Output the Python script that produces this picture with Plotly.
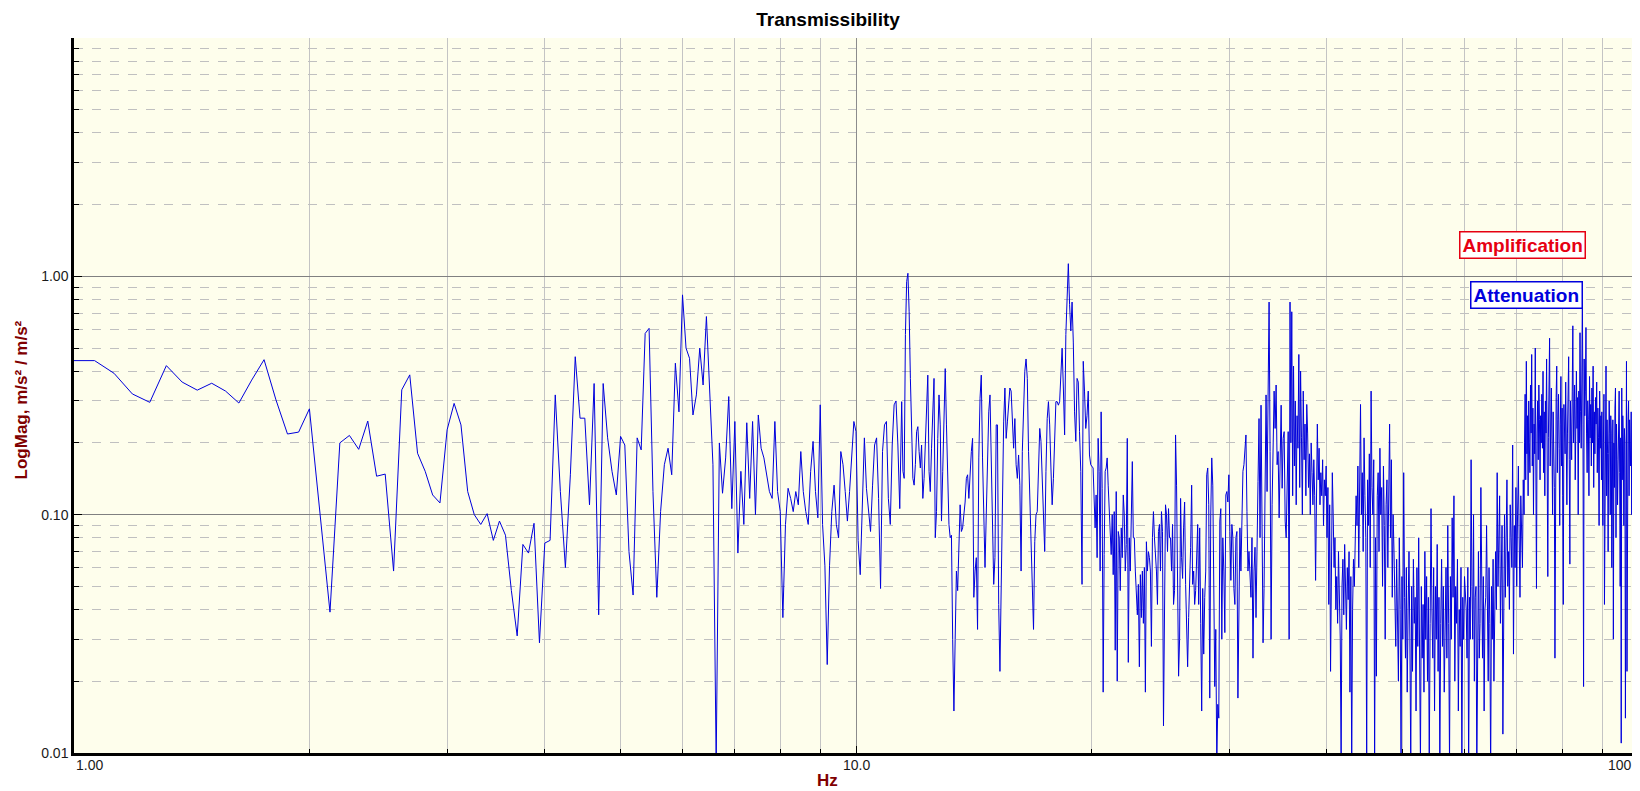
import numpy as np
import plotly.graph_objects as go

# Transmissibility spectrum
DF = 0.0625  # bin width, Hz

# 1.0 .. 3.9375 Hz
mag_lo_a = [0.443, 0.443, 0.392, 0.321, 0.296, 0.422, 0.36, 0.333, 0.356, 0.33, 0.294, 0.367, 0.447, 0.303, 0.218, 0.222,
            0.278, 0.10, 0.039, 0.20, 0.215, 0.188, 0.247, 0.145, 0.148, 0.058, 0.334, 0.386, 0.181, 0.152, 0.121, 0.112,
            0.227, 0.293, 0.238, 0.125, 0.10, 0.091, 0.101, 0.078, 0.094, 0.082, 0.048, 0.031, 0.075, 0.069, 0.092, 0.029]

# 4.0 .. 11.375 Hz
mag_lo_b = [0.076, 0.078, 0.318, 0.125, 0.06, 0.147, 0.46, 0.254, 0.254, 0.11, 0.355, 0.038, 0.355, 0.21, 0.152, 0.121,
            0.213, 0.196, 0.07, 0.046, 0.21, 0.187, 0.576, 0.605, 0.125, 0.045, 0.103, 0.162, 0.19, 0.147, 0.432, 0.27,
            0.836, 0.50, 0.453, 0.262, 0.318, 0.50, 0.35, 0.678, 0.328, 0.162, 0.009, 0.20, 0.123, 0.173, 0.313, 0.106,
            0.246, 0.069, 0.152, 0.091, 0.243, 0.117, 0.246, 0.10, 0.262, 0.19, 0.173, 0.147, 0.125, 0.117, 0.246, 0.125,
            0.103, 0.037, 0.091, 0.129, 0.117, 0.103, 0.125, 0.11, 0.184, 0.125, 0.103, 0.091, 0.152, 0.203, 0.125, 0.097,
            0.289, 0.091, 0.061, 0.0235, 0.061, 0.103, 0.133, 0.091, 0.08, 0.184, 0.162, 0.125, 0.094, 0.125, 0.184, 0.246,
            0.223, 0.078, 0.056, 0.125, 0.21, 0.129, 0.103, 0.085, 0.133, 0.196, 0.21, 0.117, 0.049, 0.184, 0.238, 0.246,
            0.117, 0.091, 0.196, 0.289, 0.30, 0.196, 0.106]

# 11.44 .. 19.96 Hz
f_mid_a = (11.44, 19.96)
mag_mid_a = [0.298, 0.152, 0.142, 0.57, 0.95, 1.03, 0.71, 0.373, 0.196, 0.142, 0.133, 0.162, 0.223, 0.234, 0.184, 0.157,
             0.196, 0.117, 0.142, 0.209, 0.308, 0.385, 0.152, 0.125, 0.19, 0.288, 0.373, 0.08, 0.103, 0.209, 0.318, 0.238,
             0.094, 0.152, 0.253, 0.41, 0.238, 0.129, 0.091, 0.08, 0.082, 0.03, 0.015, 0.03, 0.058, 0.048, 0.08, 0.11,
             0.085, 0.088, 0.1, 0.113, 0.142, 0.147, 0.117, 0.152, 0.184, 0.209, 0.045, 0.058, 0.066, 0.033, 0.173, 0.308,
             0.385, 0.173, 0.094, 0.06, 0.1, 0.184, 0.27, 0.318, 0.184, 0.1, 0.051, 0.066, 0.238, 0.238, 0.042, 0.022,
             0.049, 0.129, 0.245, 0.34, 0.209, 0.245, 0.279, 0.34, 0.33, 0.253, 0.19, 0.253, 0.162, 0.142, 0.178, 0.133,
             0.058, 0.184, 0.308, 0.40, 0.45, 0.373, 0.184, 0.117, 0.066, 0.046, 0.033, 0.077, 0.1, 0.103, 0.162, 0.23,
             0.203, 0.142, 0.094, 0.07, 0.152, 0.253, 0.298, 0.238, 0.157, 0.11, 0.142, 0.238, 0.298, 0.298, 0.288, 0.298,
             0.385, 0.50, 0.34, 0.216, 0.57, 0.92, 1.13, 0.76, 0.59, 0.78, 0.53, 0.27, 0.203, 0.373, 0.36, 0.223,
             0.152, 0.051, 0.44, 0.33, 0.23, 0.26, 0.33, 0.178, 0.162]

# 20.1 .. 35.7 Hz
f_mid_b = (20.1, 35.7)
mag_mid_b = [0.157, 0.125, 0.088, 0.121, 0.066, 0.209, 0.152, 0.058, 0.27, 0.129, 0.018, 0.068, 0.152, 0.157, 0.173, 0.133,
             0.11, 0.08, 0.068, 0.1, 0.056, 0.103, 0.027, 0.125, 0.02, 0.085, 0.08, 0.048, 0.088, 0.066, 0.121, 0.1,
             0.058, 0.075, 0.209, 0.024, 0.08, 0.058, 0.133, 0.167, 0.08, 0.08, 0.058, 0.042, 0.038, 0.051, 0.023, 0.056,
             0.037, 0.058, 0.035, 0.06, 0.018, 0.077, 0.058, 0.07, 0.066, 0.058, 0.028, 0.08, 0.103, 0.08, 0.07, 0.058,
             0.042, 0.085, 0.091, 0.058, 0.103, 0.085, 0.013, 0.053, 0.11, 0.1, 0.07, 0.106, 0.08, 0.08, 0.058, 0.091,
             0.042, 0.048, 0.216, 0.133, 0.053, 0.021, 0.03, 0.117, 0.066, 0.054, 0.088, 0.113, 0.051, 0.033, 0.023, 0.037,
             0.049, 0.073, 0.133, 0.051, 0.058, 0.042, 0.048, 0.066, 0.091, 0.042, 0.088, 0.035, 0.015, 0.049, 0.026, 0.045,
             0.058, 0.147, 0.157, 0.11, 0.017, 0.1, 0.173, 0.133, 0.051, 0.019, 0.033, 0.009, 0.016, 0.014, 0.094, 0.106,
             0.03, 0.08, 0.058, 0.032, 0.121, 0.125, 0.113, 0.147, 0.085, 0.053, 0.091, 0.08, 0.049, 0.042, 0.08, 0.085,
             0.017, 0.06, 0.088, 0.058, 0.1, 0.152, 0.162, 0.184, 0.216, 0.103, 0.058, 0.07, 0.056, 0.045, 0.08, 0.025,
             0.058, 0.073, 0.037, 0.1, 0.138, 0.253, 0.08, 0.288, 0.08, 0.029, 0.049, 0.117, 0.318, 0.125, 0.288, 0.78,
             0.184, 0.03, 0.11, 0.209, 0.33, 0.23, 0.35, 0.162, 0.184, 0.097, 0.152, 0.288, 0.129, 0.209, 0.223, 0.094,
             0.08, 0.157, 0.223]

# 35.8 .. 60 Hz
f_hi_a = (35.8, 60.0)
mag_hi_a = [0.03, 0.78, 0.2, 0.71, 0.12, 0.42, 0.16, 0.3, 0.11, 0.26, 0.19, 0.47, 0.13, 0.4, 0.21, 0.1, 0.33, 0.17, 0.24, 0.12, 0.29,
            0.22, 0.13, 0.18, 0.1, 0.2, 0.15, 0.11, 0.17, 0.12, 0.053, 0.16, 0.24, 0.14, 0.19, 0.11, 0.15, 0.12, 0.17, 0.09, 0.14,
            0.12, 0.16, 0.08, 0.13, 0.042, 0.11, 0.022, 0.09, 0.15, 0.1,
            0.06, 0.08, 0.04, 0.055, 0.035, 0.07, 0.045, 0.03, 0.009, 0.05, 0.065, 0.038, 0.075, 0.05, 0.033, 0.06, 0.044, 0.07,
            0.018, 0.055, 0.009, 0.04, 0.065, 0.05,
            0.07, 0.12, 0.09, 0.16, 0.06, 0.2, 0.29, 0.1, 0.15, 0.07, 0.21, 0.12, 0.08, 0.009, 0.14, 0.09, 0.18, 0.06, 0.33, 0.13,
            0.1, 0.17, 0.009, 0.08, 0.021, 0.12, 0.15, 0.07, 0.19, 0.1, 0.13, 0.05, 0.16, 0.09, 0.03, 0.11, 0.14, 0.06, 0.12, 0.24,
            0.08, 0.17, 0.045, 0.1, 0.07,
            0.05, 0.028, 0.065, 0.035, 0.02, 0.08, 0.04, 0.009, 0.055, 0.03, 0.15, 0.045, 0.025, 0.06, 0.018, 0.04, 0.07, 0.03,
            0.009, 0.05, 0.022, 0.065, 0.035, 0.045, 0.015, 0.06, 0.028, 0.08, 0.038, 0.009, 0.05, 0.025, 0.042, 0.018, 0.07, 0.03,
            0.055, 0.02, 0.045, 0.009, 0.035, 0.106, 0.04, 0.025, 0.06, 0.015, 0.05, 0.03, 0.075, 0.022, 0.045, 0.009, 0.035, 0.065,
            0.028, 0.05, 0.018, 0.04, 0.06, 0.025, 0.09, 0.035, 0.009, 0.055, 0.03, 0.097, 0.045, 0.12, 0.02, 0.05, 0.035, 0.065,
            0.015, 0.04, 0.028, 0.06, 0.009, 0.045, 0.03, 0.055]

# 60.3 .. 71.5 Hz
f_hi_b = (60.3, 71.5)
mag_hi_b = [0.04, 0.025, 0.06, 0.008, 0.045, 0.03, 0.17, 0.05, 0.03, 0.1, 0.02, 0.045, 0.05, 0.008, 0.035, 0.07, 0.025, 0.035,
            0.13, 0.04, 0.025, 0.055, 0.015, 0.04, 0.045, 0.09, 0.03, 0.02, 0.06, 0.035, 0.008, 0.05, 0.03, 0.065, 0.02, 0.04,
            0.07, 0.04, 0.15, 0.05, 0.09, 0.12, 0.035, 0.06, 0.09, 0.012, 0.06, 0.1, 0.045, 0.07, 0.14, 0.05, 0.07, 0.04,
            0.11, 0.08, 0.06, 0.196, 0.026, 0.09, 0.06, 0.13, 0.05, 0.1, 0.16, 0.08, 0.045, 0.12, 0.09, 0.06, 0.14, 0.1]

# 71.6 .. 89.8 Hz
f_hi_c = (71.6, 89.8)
mag_hi_c = [0.2, 0.32, 0.14, 0.44, 0.18, 0.26, 0.12, 0.3, 0.2, 0.15, 0.35, 0.22, 0.47, 0.16, 0.28, 0.1, 0.24, 0.18, 0.5, 0.13,
            0.049, 0.22, 0.3, 0.17, 0.35, 0.25, 0.14, 0.26, 0.2, 0.32, 0.19, 0.4, 0.15, 0.27, 0.12, 0.3, 0.22, 0.45, 0.17, 0.055,
            0.21, 0.29, 0.55, 0.16, 0.24, 0.34, 0.2, 0.1, 0.27, 0.18, 0.13, 0.025, 0.2, 0.31, 0.42, 0.15, 0.25, 0.32, 0.19, 0.09,
            0.24, 0.38, 0.16, 0.28, 0.12, 0.042, 0.29, 0.21, 0.18, 0.36, 0.25, 0.11, 0.22, 0.3, 0.46, 0.17, 0.062, 0.3, 0.24, 0.17,
            0.33, 0.62, 0.2, 0.28, 0.35, 0.14, 0.26, 0.4, 0.23, 0.31, 0.1, 0.33, 0.2, 0.58, 0.27, 0.19, 0.35, 0.87, 0.24, 0.019,
            0.45, 0.26, 0.33, 0.61, 0.22, 0.15, 0.3, 0.25, 0.12, 0.38, 0.21, 0.29, 0.16, 0.34, 0.2, 0.42, 0.13, 0.27, 0.18, 0.31,
            0.24, 0.36, 0.15, 0.28, 0.21, 0.09, 0.33, 0.19, 0.26, 0.14]

# 89.9 .. 100 Hz
f_hi_d = (89.9, 100.0)
mag_hi_d = [0.27, 0.15, 0.09, 0.2, 0.32, 0.042, 0.15, 0.24, 0.42, 0.12, 0.25, 0.18, 0.07, 0.18, 0.3, 0.22, 0.1, 0.26, 0.22, 0.06,
            0.16, 0.25, 0.03, 0.2, 0.13, 0.28, 0.34, 0.08, 0.24, 0.17, 0.11, 0.19, 0.26, 0.33, 0.15, 0.05, 0.21, 0.011, 0.34, 0.14,
            0.26, 0.2, 0.09, 0.23, 0.2, 0.014, 0.3, 0.44, 0.022, 0.17, 0.25, 0.3, 0.12, 0.25, 0.19, 0.16, 0.27, 0.1, 0.22, 0.34,
            0.14, 0.28, 0.18, 0.05, 0.24, 0.3, 0.13, 0.2, 0.27, 0.25]

y_tick_vals = [0.01, 0.1, 1.0]
y_tick_text = ["0.01", "0.10", "1.00"]
x_tick_vals = [1, 10, 100]
x_tick_text = ["1.00", "10.0", "100"]

# frequency axis for each band
bands = [(f_mid_a, mag_mid_a), (f_mid_b, mag_mid_b), (f_hi_a, mag_hi_a),
         (f_hi_b, mag_hi_b), (f_hi_c, mag_hi_c), (f_hi_d, mag_hi_d)]
freq = np.concatenate([1.0 + DF * np.arange(len(mag_lo_a)), 4.0 + DF * np.arange(len(mag_lo_b))]
                      + [np.geomspace(f[0], f[1], len(m)) for f, m in bands])
mag = np.concatenate([mag_lo_a, mag_lo_b] + [m for f, m in bands])

FONT = "Liberation Sans, Arial, sans-serif"
MAROON = "#800000"

fig = go.Figure()
fig.add_trace(go.Scatter(x=freq, y=mag, mode="lines",
                         line=dict(color="rgb(0,0,220)", width=1),
                         hoverinfo="x+y", showlegend=False))

x_minor = [k * 10 ** e for e in (0, 1) for k in range(2, 10)]
y_minor = [k * 10 ** e for e in (-2, -1, 0) for k in range(2, 10)]

fig.update_xaxes(
    type="log", range=[0, 2],
    tickvals=x_tick_vals, showticklabels=False,
    ticks="inside", ticklen=7, tickcolor="black", tickwidth=1,
    showline=True, linecolor="black", linewidth=2.5, mirror=False,
    showgrid=True, gridcolor="#8c8c8c", gridwidth=1,
    minor=dict(tickvals=x_minor, ticks="inside", ticklen=4, tickcolor="black",
               showgrid=True, gridcolor="#c4c4c4", gridwidth=1),
    zeroline=False,
)
fig.update_yaxes(
    type="log", range=[-2, 1],
    tickvals=y_tick_vals, ticktext=y_tick_text,
    tickfont=dict(family=FONT, size=14, color="#1a1a1a"),
    ticks="inside", ticklen=8, tickcolor="black", tickwidth=1,
    showline=True, linecolor="black", linewidth=2.5, mirror=False,
    showgrid=True, gridcolor="#808080", gridwidth=1,
    minor=dict(tickvals=y_minor, ticks="inside", ticklen=5, tickcolor="black",
               showgrid=True, gridcolor="#c0c0c0", gridwidth=1, griddash="dash"),
    zeroline=False,
)

annotations = []
for val, txt, anchor, shift in zip(x_tick_vals, x_tick_text, ["left", "center", "right"], [0, 0, -4]):
    annotations.append(dict(x=np.log10(val), y=-0.0168, xref="x", yref="paper", text=txt,
                            showarrow=False, xanchor=anchor, yanchor="middle", xshift=shift,
                            font=dict(family=FONT, size=14, color="#1a1a1a")))

annotations += [
    dict(x=0.482, y=-0.039, xref="paper", yref="paper", text="<b>Hz</b>", showarrow=False,
         xanchor="center", yanchor="middle", font=dict(family=FONT, size=17, color=MAROON)),
    dict(x=-0.0335, y=0.494, xref="paper", yref="paper", text="<b>LogMag, m/s² / m/s²</b>",
         showarrow=False, textangle=-90, xanchor="center", yanchor="middle",
         font=dict(family=FONT, size=17, color=MAROON)),
    dict(x=0.9665, y=0.7105, xref="paper", yref="paper", text="<b>Amplification</b>", showarrow=False,
         xanchor="right", yanchor="middle", font=dict(family=FONT, size=19, color="#e60012"),
         bordercolor="#e60012", borderwidth=1.5, borderpad=2, bgcolor="white"),
    dict(x=0.965, y=0.64, xref="paper", yref="paper", text="<b>Attenuation</b>", showarrow=False,
         xanchor="right", yanchor="middle", font=dict(family=FONT, size=19, color="#0000dd"),
         bordercolor="#0000dd", borderwidth=1.5, borderpad=2, bgcolor="white"),
]

fig.update_layout(
    width=1640, height=791,
    title=dict(text="<b>Transmissibility</b>", x=0.5, xanchor="center", y=0.986, yanchor="middle",
               font=dict(family=FONT, size=19, color="black")),
    margin=dict(l=66, r=10, t=30, b=46, pad=0),
    plot_bgcolor="#fefeec",
    paper_bgcolor="white",
    showlegend=False,
    annotations=annotations,
    shapes=[dict(type="line", xref="paper", yref="paper", x0=-0.05, x1=1.01, y0=-0.0587, y1=-0.0587,
                 line=dict(color="#dcdcdc", width=2))],
)

fig.write_html("out.html")
